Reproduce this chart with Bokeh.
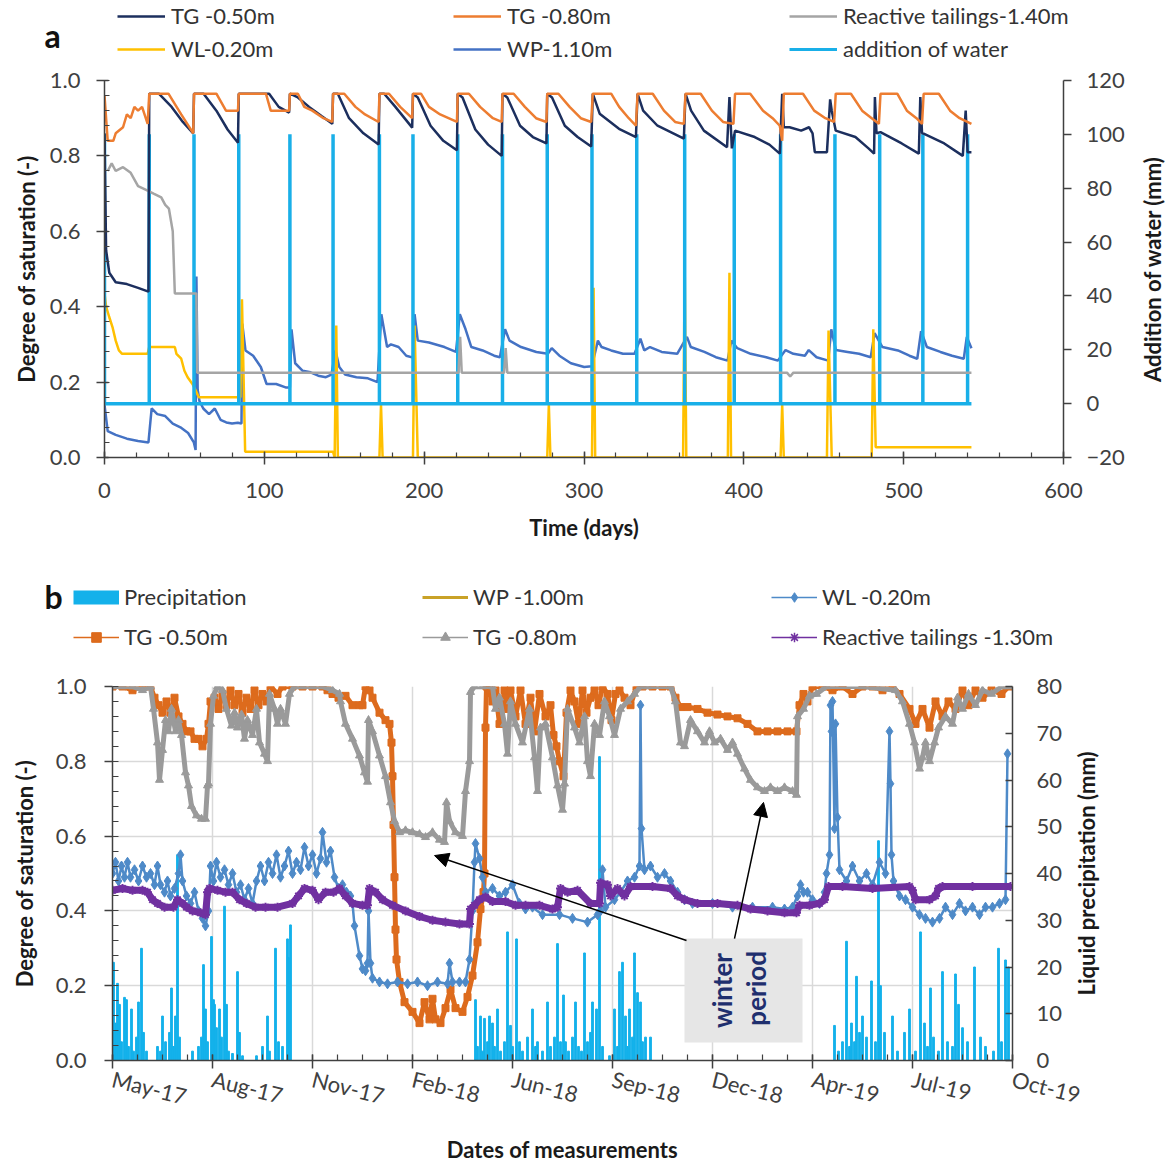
import math
from bokeh.plotting import figure
from bokeh.models import (Range1d, LinearAxis, SingleIntervalTicker, FixedTicker, Legend,
                          LegendItem, Label, Arrow, NormalHead, BoxAnnotation,
                          NumeralTickFormatter)
from bokeh.layouts import column
from bokeh.embed import file_html
from bokeh.resources import INLINE

FONT = "Lato"
AXC = "#404040"
W = 1165

# ======================= Panel a data (time in days) =======================
a_tg050_day = [0, 1, 3, 7, 14, 21, 27.5,
               28, 34, 42, 49, 55.5,
               56, 62, 70, 77, 83.5,
               84, 103, 109, 115.5,
               116, 121, 128, 136, 142.5,
               143, 146, 153, 162, 171.5,
               172, 175, 182, 192.5,
               193, 196, 204, 212, 220.5,
               221, 224, 232, 240, 248.5,
               249, 252, 260, 268, 276.5,
               277, 280, 288, 296, 304.5,
               305.5, 309.8, 321.9, 332.5,
               333.5, 337, 346, 362.5,
               363.5, 367, 375, 389.5, 391, 392.5,
               394.5, 406.8, 416, 422.5, 424, 425, 428.6, 435.9, 440.8, 443, 444.4, 452, 454, 455,
               457.5, 469.8, 478, 481.5, 482, 483,
               485.5, 498.8, 509.5, 510.4, 511.5,
               512.5, 525.4, 537, 538.8, 540, 542.4]
a_tg050_sat = [0.86, 0.55, 0.49, 0.465, 0.46, 0.45, 0.44,
               0.965, 0.965, 0.93, 0.89, 0.86,
               0.965, 0.965, 0.92, 0.87, 0.835,
               0.965, 0.965, 0.93, 0.915,
               0.965, 0.955, 0.93, 0.905, 0.885,
               0.965, 0.965, 0.90, 0.86, 0.83,
               0.965, 0.965, 0.93, 0.875,
               0.965, 0.955, 0.88, 0.84, 0.815,
               0.965, 0.955, 0.87, 0.83, 0.80,
               0.965, 0.955, 0.88, 0.85, 0.833,
               0.965, 0.955, 0.88, 0.85, 0.825,
               0.965, 0.912, 0.872, 0.85,
               0.965, 0.92, 0.88, 0.846,
               0.965, 0.92, 0.867, 0.823, 0.956, 0.82,
               0.867, 0.85, 0.83, 0.806, 0.965, 0.876, 0.876, 0.867, 0.876, 0.86, 0.81, 0.81, 0.95, 0.92,
               0.867, 0.85, 0.82, 0.806, 0.956, 0.86,
               0.863, 0.833, 0.806, 0.956, 0.86,
               0.859, 0.833, 0.80, 0.92, 0.81, 0.81]

a_tg080_day = [0, 2, 5.5, 7, 11.6, 14, 16.4, 18.7, 21, 23.5, 27,
               28, 40, 48, 55.5,
               56, 70, 76, 83.5,
               84, 101, 104, 115.5,
               116, 121, 125, 130, 137, 142.5,
               143, 150, 157, 163, 171.5,
               172, 178, 185, 192.5,
               193, 198, 203, 210, 220.5,
               221, 228, 235, 243, 248.5,
               249, 256, 263, 270, 276.5,
               277, 284, 291, 298, 304.5,
               305.5, 317, 322, 328, 332.5,
               333.5, 343, 350, 357, 362.5,
               363.5, 373, 380, 387, 393.5,
               394.5, 404, 412, 418, 422.5, 424,
               425, 437, 444, 451, 456.5,
               457.5, 467, 474, 480, 484.5,
               485.5, 496, 502, 508, 511.5,
               512.5, 522, 529, 535, 542.4]
a_tg080_sat = [0.96, 0.84, 0.84, 0.86, 0.876, 0.91, 0.90, 0.93, 0.92, 0.93, 0.885,
               0.965, 0.965, 0.91, 0.86,
               0.965, 0.965, 0.92, 0.92,
               0.965, 0.965, 0.92, 0.92,
               0.965, 0.965, 0.93, 0.92, 0.90, 0.89,
               0.965, 0.965, 0.93, 0.91, 0.89,
               0.965, 0.965, 0.93, 0.90,
               0.965, 0.965, 0.93, 0.91, 0.89,
               0.965, 0.965, 0.93, 0.90, 0.89,
               0.965, 0.965, 0.93, 0.90, 0.89,
               0.965, 0.965, 0.93, 0.90, 0.89,
               0.965, 0.965, 0.93, 0.90, 0.88,
               0.965, 0.965, 0.92, 0.89, 0.885,
               0.965, 0.965, 0.92, 0.89, 0.885,
               0.965, 0.965, 0.92, 0.90, 0.88, 0.84,
               0.965, 0.965, 0.92, 0.90, 0.89,
               0.965, 0.965, 0.92, 0.90, 0.885,
               0.965, 0.965, 0.92, 0.90, 0.885,
               0.965, 0.965, 0.92, 0.90, 0.885]

a_react_day = [2, 4.5, 7, 11.6, 16.4, 21, 26, 30.7, 35.5, 38, 40.3, 42.7, 44, 55, 57.5, 58,
               221.5, 222.5, 223.5, 250, 251, 252, 427, 429, 431, 542.4]
a_react_sat = [0.76, 0.78, 0.76, 0.77, 0.755, 0.72, 0.71, 0.70, 0.69, 0.67, 0.66, 0.60, 0.435, 0.435, 0.435, 0.225,
               0.225, 0.32, 0.225, 0.225, 0.29, 0.225, 0.225, 0.215, 0.225, 0.225]

a_wl_day = [0, 1, 3, 5, 7, 9, 11, 27, 28, 44, 45, 48, 50, 52, 55, 57, 59,
            85, 86, 88, 143, 144, 145, 146, 172, 173, 174, 193, 194, 196,
            277, 278, 279, 305, 306, 307, 362, 363, 364, 390, 391, 392,
            423, 424, 425, 452, 453, 455, 480, 481, 482.5, 542.4]
a_wl_sat = [0.435, 0.40, 0.372, 0.346, 0.31, 0.284, 0.275, 0.275, 0.293, 0.293, 0.275, 0.262, 0.23, 0.213, 0.195, 0.178, 0.16,
            0.16, 0.42, 0.015, 0.015, 0.0, 0.35, 0.0, 0.0, 0.14, 0.0, 0.0, 0.35, 0.0,
            0.0, 0.14, 0.0, 0.0, 0.45, 0.0, 0.0, 0.51, 0.0, 0.0, 0.49, 0.0,
            0.0, 0.14, 0.0, 0.0, 0.337, 0.0, 0.0, 0.34, 0.027, 0.027]

a_wp_day = [0, 2, 7, 14, 21, 27.5, 29.5, 33, 38, 42.7,
            47.5, 52.3, 55.9, 57, 57.5, 58.3, 59.4, 61.8, 65.4, 69,
            72.6, 76.2, 79.8, 83.4, 85.7, 86.2, 88.2, 93, 97.8, 101.4,
            107.4, 113.3, 116, 117, 119.3, 124, 128.9, 133.7, 138.5, 142,
            144.5, 146.9, 150.5, 157.6, 164.8, 170.8, 173.2, 176.8, 179.2, 184,
            188.8, 193, 194, 196, 203, 212.7, 219.9, 222.3, 225.9, 229.5,
            236.6, 243.8, 247.4, 250.6, 253.4, 260.6, 270.2, 277.4, 279.8, 284.6,
            291.8, 300.1, 304.9, 308.7, 311, 317, 324.4, 331.6, 335.3, 337.7,
            341.3, 348.6, 358.3, 364.4, 366.8, 375.3, 382.5, 389.8, 392.2, 395.9,
            404.3, 414, 421.3, 426.1, 431, 438.2, 440.6, 445.5, 452.8, 454.7,
            457.6, 464.9, 472.1, 479.4, 481.8, 486.7, 496.4, 503.6, 508.5, 510.9,
            514.5, 523, 530.3, 537.6, 539.5, 542.4]
a_wp_sat = [0.14, 0.07, 0.06, 0.05, 0.044, 0.04, 0.13, 0.115, 0.11, 0.09,
            0.08, 0.065, 0.04, 0.02, 0.48, 0.18, 0.15, 0.13, 0.115, 0.13,
            0.10, 0.093, 0.09, 0.092, 0.09, 0.355, 0.284, 0.27, 0.24, 0.195,
            0.195, 0.186, 0.186, 0.34, 0.25, 0.23, 0.226, 0.217, 0.213, 0.22,
            0.284, 0.24, 0.22, 0.213, 0.21, 0.20, 0.38, 0.293, 0.30, 0.293,
            0.27, 0.265, 0.38, 0.31, 0.305, 0.293, 0.28, 0.38, 0.34, 0.293,
            0.284, 0.27, 0.266, 0.34, 0.31, 0.293, 0.28, 0.275, 0.29, 0.27,
            0.25, 0.24, 0.242, 0.31, 0.293, 0.284, 0.275, 0.275, 0.315, 0.284,
            0.293, 0.28, 0.275, 0.32, 0.293, 0.28, 0.266, 0.257, 0.31, 0.29,
            0.275, 0.266, 0.257, 0.285, 0.275, 0.27, 0.285, 0.266, 0.257, 0.34,
            0.285, 0.28, 0.275, 0.266, 0.33, 0.293, 0.284, 0.27, 0.262, 0.335,
            0.293, 0.28, 0.27, 0.262, 0.32, 0.29]

# addition of water events (day, mm); zero between events until the end of the test
a_water_day = [0, 28, 56, 84, 116, 143, 172, 193, 221, 249, 277, 305, 333, 363, 394, 423, 457, 485, 512, 540]
a_water_mm = [100] * 20
a_water_end_day = 542.4

# ======================= Panel b data (days since 1 May 2017) =======================
b_tick_days = [0, 100, 200, 300, 400, 500, 600, 700, 800, 900]
b_tick_labels = ["May-17", "Aug-17", "Nov-17", "Feb-18", "Jun-18", "Sep-18", "Dec-18", "Apr-19", "Jul-19", "Oct-19"]

b_tg050_day = [0, 10, 20, 30, 38, 42, 46, 50, 54, 58,
               62, 66, 70, 74, 78, 82, 86, 90, 94, 96,
               98, 102, 106, 110, 114, 118, 122, 126, 130, 134,
               138, 142, 146, 150, 154, 158, 165, 170, 180, 190,
               200, 210, 215, 220, 226, 233, 240, 247, 250, 253,
               257, 260, 267, 273, 277, 279, 280, 281, 282, 283,
               284, 287, 292, 300, 307, 312, 317, 320, 323, 328,
               333, 338, 343, 350, 355, 360, 365, 368, 371, 372,
               373, 374, 377, 380, 383, 387, 392, 395, 398, 403,
               408, 413, 418, 422, 427, 433, 438, 441, 444, 447,
               451, 454, 458, 462, 466, 470, 474, 478, 482, 486,
               490, 495, 499, 503, 507, 512, 518, 524, 530, 540,
               550, 558, 563, 568, 575, 585, 595, 605, 615, 625,
               635, 645, 655, 665, 675, 684, 687, 691, 695, 700,
               710, 720, 730, 740, 750, 760, 770, 780, 787, 797,
               803, 810, 817, 823, 830, 836, 843, 850, 856, 863,
               870, 879, 889, 896]
b_tg050_sat = [1.0, 1.0, 0.99, 1.0, 1.0, 0.97, 0.95, 0.93, 0.96, 0.93,
               0.97, 0.92, 0.90, 0.88, 0.88, 0.86, 0.86, 0.84, 0.86, 0.90,
               0.96, 0.97, 0.94, 0.98, 0.95, 0.99, 0.95, 0.98, 0.93, 0.97,
               0.94, 0.99, 0.95, 0.98, 0.96, 1.0, 0.98, 1.0, 1.0, 1.0,
               1.0, 1.0, 0.99, 0.98, 0.97, 0.975, 0.95, 0.95, 0.95, 1.0,
               0.99, 0.97, 0.93, 0.91, 0.90, 0.85, 0.76, 0.63, 0.49, 0.35,
               0.27, 0.21, 0.156, 0.13, 0.10, 0.156, 0.11, 0.165, 0.11, 0.10,
               0.14, 0.19, 0.14, 0.13, 0.17, 0.227, 0.316, 0.405, 0.45, 0.50,
               0.89, 1.0, 0.99, 0.96, 0.99, 0.90, 0.99, 0.94, 0.99, 0.92,
               0.99, 0.90, 0.97, 0.88, 0.98, 0.92, 0.95, 0.87, 0.84, 0.80,
               0.76, 0.93, 0.99, 0.96, 0.90, 0.99, 0.93, 0.97, 0.99, 0.95,
               1.0, 0.98, 0.91, 0.98, 0.99, 0.97, 0.95, 1.0, 1.0, 1.0,
               1.0, 1.0, 0.97, 0.945, 0.945, 0.94, 0.93, 0.925, 0.92, 0.915,
               0.90, 0.88, 0.88, 0.88, 0.88, 0.88, 0.95, 0.98, 0.96, 1.0,
               1.0, 0.99, 1.0, 0.98, 1.0, 1.0, 0.99, 1.0, 0.98, 0.94,
               0.90, 0.94, 0.89, 0.96, 0.92, 0.96, 0.94, 0.99, 0.95, 0.99,
               0.97, 0.99, 0.98, 1.0]

b_tg080_day = [0, 10, 20, 30, 38, 41, 45, 47, 50, 53,
               56, 59, 63, 66, 69, 73, 76, 79, 84, 89,
               93, 95, 96, 98, 101, 105, 110, 114, 119, 122,
               125, 129, 132, 135, 140, 144, 147, 152, 155, 157,
               162, 165, 168, 173, 177, 182, 190, 200, 210, 220,
               227, 228, 233, 240, 247, 252, 255, 256, 260, 267,
               273, 278, 282, 287, 293, 300, 307, 313, 320, 327,
               332, 334, 337, 343, 350, 353, 357, 358, 362, 370,
               380, 383, 387, 392, 395, 398, 403, 410, 417, 422,
               425, 428, 433, 440, 445, 450, 452, 455, 462, 467,
               472, 475, 478, 482, 487, 492, 497, 502, 508, 515,
               522, 528, 535, 558, 563, 568, 572, 578, 585, 592,
               597, 602, 608, 615, 620, 625, 632, 638, 645, 652,
               658, 665, 672, 680, 684, 685, 691, 697, 704, 714,
               750, 783, 790, 797, 802, 807, 810, 813, 817, 822,
               826, 833, 840, 845, 850, 856, 863, 870, 879, 889,
               896]
b_tg080_sat = [1.0, 1.0, 1.0, 0.99, 1.0, 0.94, 0.85, 0.75, 0.83, 0.91,
               0.88, 0.94, 0.88, 0.91, 0.87, 0.77, 0.735, 0.68, 0.655, 0.646,
               0.646, 0.735, 0.74, 0.90, 0.975, 1.0, 0.99, 0.94, 0.895, 0.93,
               0.89, 0.925, 0.86, 0.91, 0.87, 0.94, 0.85, 0.82, 0.80, 0.98,
               0.94, 0.90, 0.94, 0.90, 0.98, 1.0, 1.0, 1.0, 1.0, 0.99,
               0.98, 0.96, 0.90, 0.86, 0.815, 0.77, 0.745, 0.91, 0.88, 0.815,
               0.76, 0.69, 0.64, 0.61, 0.615, 0.61, 0.605, 0.597, 0.61, 0.59,
               0.584, 0.69, 0.64, 0.61, 0.60, 0.72, 0.80, 0.985, 1.0, 1.0,
               1.0, 0.94, 0.97, 0.90, 0.82, 0.96, 0.90, 0.85, 0.94, 0.81,
               0.72, 0.89, 0.90, 0.81, 0.735, 0.67, 0.74, 0.94, 0.89, 0.85,
               0.92, 0.80, 0.76, 0.90, 0.87, 0.96, 0.92, 0.87, 0.94, 0.96,
               0.98, 1.0, 1.0, 1.0, 0.96, 0.85, 0.84, 0.91, 0.88, 0.85,
               0.88, 0.85, 0.86, 0.83, 0.85, 0.82, 0.78, 0.75, 0.73, 0.72,
               0.73, 0.72, 0.73, 0.72, 0.71, 0.92, 0.94, 0.975, 0.98, 1.0,
               1.0, 0.99, 0.96, 0.90, 0.85, 0.78, 0.81, 0.85, 0.80, 0.85,
               0.89, 0.92, 0.90, 0.97, 0.94, 0.98, 0.95, 0.99, 0.98, 1.0,
               1.0]

b_wl_day = [0, 3, 6, 9, 12, 15, 18, 22, 26, 30,
            34, 38, 42, 45, 48, 52, 55, 58, 62, 66,
            68, 70, 74, 78, 82, 86, 90, 93, 96, 98,
            101, 104, 108, 112, 116, 120, 124, 128, 132, 136,
            140, 144, 148, 152, 156, 160, 164, 168, 172, 176,
            180, 184, 188, 192, 196, 200, 204, 208, 210, 214,
            218, 222, 226, 230, 234, 238, 240, 242, 247, 250,
            253, 255, 256, 258, 260, 267, 275, 285, 295, 305,
            315, 325, 335, 337, 340, 347, 353, 357, 360, 362,
            363, 367, 370, 373, 380, 387, 393, 400, 407, 413,
            420, 430, 447, 460, 475, 485, 488, 490, 493, 502,
            508, 515, 522, 527, 528, 529, 532, 538, 545, 552,
            558, 565, 572, 580, 600, 620, 640, 660, 672, 680,
            685, 688, 691, 695, 700, 707, 712, 714, 717, 718,
            719, 720, 722, 723, 725, 727, 734, 740, 747, 754,
            760, 767, 773, 777, 778, 779, 781, 787, 793, 800,
            807, 813, 820, 827, 833, 840, 847, 853, 860, 867,
            873, 880, 887, 893, 895]
b_wl_sat = [0.50, 0.53, 0.48, 0.52, 0.49, 0.53, 0.49, 0.51, 0.48, 0.52,
            0.49, 0.50, 0.47, 0.52, 0.47, 0.45, 0.48, 0.44, 0.46, 0.50,
            0.55, 0.48, 0.44, 0.42, 0.45, 0.40, 0.38, 0.36, 0.40, 0.52,
            0.48, 0.53, 0.49, 0.51, 0.47, 0.50, 0.45, 0.47, 0.43, 0.46,
            0.42, 0.48, 0.52, 0.48, 0.53, 0.50, 0.55, 0.49, 0.52, 0.56,
            0.50, 0.53, 0.51, 0.57, 0.52, 0.55, 0.50, 0.54, 0.61, 0.53,
            0.56, 0.49, 0.46, 0.47, 0.45, 0.44, 0.42, 0.36, 0.28, 0.245,
            0.24, 0.26, 0.40, 0.26, 0.22, 0.21, 0.205, 0.21, 0.205, 0.21,
            0.20, 0.21, 0.205, 0.26, 0.21, 0.21, 0.21, 0.27, 0.40, 0.53,
            0.58, 0.54, 0.49, 0.45, 0.46, 0.44, 0.45, 0.47, 0.42, 0.405,
            0.41, 0.39, 0.39, 0.38, 0.37, 0.39, 0.40, 0.51, 0.41, 0.43,
            0.45, 0.48, 0.49, 0.52, 0.95, 0.62, 0.51, 0.52, 0.49, 0.50,
            0.48, 0.45, 0.43, 0.42, 0.42, 0.41, 0.41, 0.41, 0.405, 0.41,
            0.44, 0.47, 0.45, 0.45, 0.43, 0.42, 0.45, 0.50, 0.55, 0.95,
            0.88, 0.96, 0.62, 0.90, 0.65, 0.51, 0.48, 0.52, 0.48, 0.50,
            0.47, 0.53, 0.50, 0.88, 0.74, 0.55, 0.48, 0.44, 0.43, 0.41,
            0.39, 0.38, 0.37, 0.38, 0.41, 0.39, 0.42, 0.40, 0.41, 0.39,
            0.41, 0.41, 0.42, 0.43, 0.82]

b_react_day = [0, 10, 20, 30, 35, 40, 45, 52, 61, 65,
               70, 74, 80, 88, 93, 95, 97, 105, 113, 120,
               127, 134, 143, 153, 165, 180, 186, 192, 200, 206,
               213, 221, 227, 233, 240, 250, 255, 257, 263, 270,
               280, 293, 307, 320, 333, 347, 357, 358, 362, 367,
               373, 380, 393, 403, 413, 427, 440, 445, 448, 455,
               465, 478, 487, 488, 495, 498, 505, 512, 518, 540,
               558, 565, 572, 585, 605, 625, 638, 655, 672, 684,
               687, 697, 707, 712, 716, 730, 760, 797, 800, 803,
               817, 823, 826, 830, 860, 898]
b_react_sat = [0.455, 0.46, 0.455, 0.455, 0.45, 0.43, 0.42, 0.41, 0.41, 0.43,
               0.42, 0.41, 0.40, 0.395, 0.39, 0.45, 0.46, 0.455, 0.45, 0.45,
               0.43, 0.42, 0.41, 0.41, 0.41, 0.42, 0.44, 0.46, 0.455, 0.43,
               0.45, 0.45, 0.46, 0.44, 0.42, 0.415, 0.415, 0.46, 0.45, 0.43,
               0.415, 0.40, 0.385, 0.375, 0.37, 0.365, 0.365, 0.405, 0.415, 0.43,
               0.437, 0.425, 0.425, 0.415, 0.415, 0.415, 0.405, 0.41, 0.46, 0.45,
               0.455, 0.42, 0.42, 0.475, 0.47, 0.44, 0.46, 0.44, 0.465, 0.465,
               0.46, 0.44, 0.43, 0.42, 0.42, 0.415, 0.405, 0.40, 0.395, 0.395,
               0.415, 0.415, 0.42, 0.43, 0.465, 0.465, 0.46, 0.465, 0.455, 0.43,
               0.43, 0.44, 0.46, 0.465, 0.465, 0.465]

b_rain_day = [1, 3, 5, 7, 9, 12, 14, 16, 19, 21,
              24, 26, 29, 31, 34, 45, 48, 50, 53, 57,
              59, 61, 63, 65, 67, 80, 86, 89, 91, 93,
              95, 99, 101, 102, 104, 107, 109, 112, 114, 116,
              120, 125, 127, 130, 144, 150, 155, 157, 163, 166,
              170, 175, 176, 178, 363, 365, 368, 370, 372, 375,
              377, 380, 382, 385, 388, 392, 395, 398, 400, 404,
              407, 410, 415, 420, 423, 425, 430, 435, 438, 442,
              445, 448, 451, 453, 456, 460, 463, 466, 469, 472,
              475, 478, 480, 484, 487, 490, 497, 502, 505, 507,
              510, 513, 515, 517, 520, 522, 525, 528, 530, 533,
              538, 722, 726, 730, 734, 737, 739, 742, 744, 747,
              750, 754, 759, 763, 766, 768, 772, 780, 785, 792,
              797, 803, 808, 812, 815, 818, 821, 826, 830, 835,
              840, 843, 846, 850, 855, 862, 868, 873, 881, 886,
              889, 893, 896]
b_rain_mm = [21, 8, 16.5, 12, 4, 13.5, 13, 3, 11, 2,
             5, 12.5, 24, 6, 2, 3, 2, 9.5, 4, 6,
             15.5, 3, 9.5, 44, 5, 2, 3, 5, 20.5, 11,
             4, 26.5, 13, 12, 7, 11, 5, 33, 12, 2,
             1.5, 19, 6, 1, 1, 3, 9.5, 2, 24, 4,
             3, 26, 22, 29, 13, 3, 9.5, 2, 9, 4,
             9.5, 8, 3, 11, 2, 4, 27.5, 7.5, 3, 26,
             4, 2, 5, 11, 3, 4, 2, 12.5, 3, 5,
             25, 4, 14, 4, 2, 5, 12.5, 3, 2, 23,
             4, 6, 12.5, 11, 65, 3, 1, 11, 3, 19,
             21, 9.5, 3, 11, 5, 23, 14.5, 12.5, 4, 5,
             5, 7.5, 2, 4, 25.5, 3, 8, 4, 18, 6,
             9.5, 5, 17, 4, 47, 16, 6, 9.5, 2, 6,
             11, 2, 27.5, 8, 3, 15.5, 5, 2, 19, 4,
             3, 18.5, 12, 7, 4, 20, 5, 3, 2, 24,
             4, 21.5, 20]

# ======================= colours =======================
A_NAVY, A_ORANGE, A_GREY, A_GOLD, A_BLUE, A_CYAN = "#1c2f5e", "#ed7d31", "#a5a5a5", "#ffc000", "#4472c4", "#19afe8"
B_ORANGE, B_GREY, B_WL, B_PURPLE, B_RAIN, B_WP = "#dd6b1d", "#9a9a9a", "#4e8ac8", "#7030a0", "#14b1ea", "#c9a227"

# legend keys are drawn from one off-screen proxy point per series
OFF = [-1000.0]


def style_axis(ax, tin, tout, min_in, min_out, standoff, label, lstandoff):
    ax.axis_line_color = AXC
    ax.axis_line_width = 1.5
    ax.major_tick_line_color = AXC
    ax.major_tick_line_width = 1.5
    ax.minor_tick_line_color = AXC
    ax.minor_tick_line_width = 1.2
    ax.major_tick_in = tin
    ax.major_tick_out = tout
    ax.minor_tick_in = min_in
    ax.minor_tick_out = min_out
    ax.major_label_text_font = FONT
    ax.major_label_text_font_size = "22px"
    ax.major_label_text_color = "#404040"
    ax.major_label_standoff = standoff
    ax.axis_label = label
    ax.axis_label_text_font = FONT
    ax.axis_label_text_font_size = "22px"
    ax.axis_label_text_font_style = "bold"
    ax.axis_label_text_color = "#1a1a1a"
    ax.axis_label_standoff = lstandoff


def side_title(text, x, y):
    return Label(x=x, y=y, text=text, angle=math.pi / 2, text_font=FONT, text_font_size="22px",
                 text_font_style="bold", text_color="#1a1a1a", text_align="center",
                 text_baseline="middle")


def style_legend(lg, glyph_w, standoff, spacing, label_w):
    lg.orientation = "horizontal"
    lg.ncols = 3
    lg.glyph_width = glyph_w
    lg.glyph_height = 24
    lg.label_height = 24
    lg.label_standoff = standoff
    lg.spacing = spacing
    lg.label_width = label_w
    lg.padding = 0
    lg.margin = 0
    lg.border_line_alpha = 0
    lg.background_fill_alpha = 0
    lg.label_text_font = FONT
    lg.label_text_font_size = "22px"
    lg.label_text_color = "#333333"
    lg.label_text_baseline = "middle"


def header(height):
    h = figure(width=W, height=height, x_range=Range1d(0, W), y_range=Range1d(0, height),
               x_axis_type=None, y_axis_type=None, output_backend="svg", toolbar_location=None,
               min_border=0, min_border_left=0, min_border_right=0, min_border_top=0, min_border_bottom=0)
    h.outline_line_color = None
    h.title.visible = False
    h.frame_align = False
    return h


# ======================= Panel a header (legend + "a") =======================
HA = 64
ha = header(HA)
pa_leg = [
    ("TG -0.50m", A_NAVY, 2.5),
    ("TG -0.80m", A_ORANGE, 2.5),
    ("Reactive tailings-1.40m", A_GREY, 2.5),
    ("WL-0.20m", A_GOLD, 2.5),
    ("WP-1.10m", A_BLUE, 2.5),
    ("addition of water", A_CYAN, 3),
]
leg_a = Legend(items=[LegendItem(label=k, renderers=[ha.line(OFF, OFF, color=c, line_width=lw)])
                      for k, c, lw in pa_leg], location=(117, 2))
style_legend(leg_a, 48, 6, 6, 276)
ha.add_layout(leg_a, "center")
ha.add_layout(Label(x=52, y=HA - 35, text="a", text_font=FONT, text_font_size="32px",
                    text_font_style="bold", text_align="center", text_baseline="middle",
                    text_color="#111111"))

# ======================= Panel a =======================
pa = figure(width=W, height=550 - HA, x_range=Range1d(0, 600), y_range=Range1d(0, 1),
            output_backend="svg", toolbar_location=None,
            min_border_left=104, min_border_right=W - 1063, min_border_top=80 - HA, min_border_bottom=93)
pa.frame_align = False
pa.outline_line_color = None
pa.xgrid.visible = False
pa.ygrid.visible = False
pa.extra_y_ranges = {"water": Range1d(-20, 120)}

pa.xaxis.ticker = SingleIntervalTicker(interval=100, num_minor_ticks=5)
pa.yaxis.ticker = SingleIntervalTicker(interval=0.2, num_minor_ticks=5)
pa.yaxis.formatter = NumeralTickFormatter(format="0.0")
style_axis(pa.xaxis[0], 6, 7, 5, 0, 18, "Time (days)", 13)
style_axis(pa.yaxis[0], 4, 8, 5, 0, 16, "Degree of saturation (-)", 7)
ra = LinearAxis(y_range_name="water", ticker=SingleIntervalTicker(interval=20))
style_axis(ra, 0, 8, 0, 0, 15, None, 0)
pa.add_layout(ra, "right")
pa.add_layout(side_title("Addition of water (mm)", 655.5, 0.5), "right")

pa.line(a_wp_day, a_wp_sat, color=A_BLUE, line_width=2.5)
pa.line(a_wl_day, a_wl_sat, color=A_GOLD, line_width=2.5)
wx, wy = [], []
for d, mm in zip(a_water_day, a_water_mm):
    wx += [d, d, d]
    wy += [0, mm, 0]
wx.append(a_water_end_day)
wy.append(0)
pa.line(wx, wy, color=A_CYAN, line_width=3.5, y_range_name="water")
pa.line(a_react_day, a_react_sat, color=A_GREY, line_width=2.5)
pa.line(a_tg050_day, a_tg050_sat, color=A_NAVY, line_width=2.5)
pa.line(a_tg080_day, a_tg080_sat, color=A_ORANGE, line_width=2.5)

# ======================= Panel b header (legend + "b") =======================
HB = 118
hb = header(HB)
lp = [
    ("Precipitation", [hb.line(OFF, OFF, color=B_RAIN, line_width=14, line_cap="butt")]),
    ("WP -1.00m", [hb.line(OFF, OFF, color=B_WP, line_width=3)]),
    ("WL -0.20m", [hb.line(OFF, OFF, color=B_WL, line_width=1.5),
                   hb.scatter(OFF, OFF, marker="diamond", size=8, color=B_WL)]),
    ("TG -0.50m", [hb.line(OFF, OFF, color=B_ORANGE, line_width=1.5),
                   hb.scatter(OFF, OFF, marker="square", size=6, color=B_ORANGE)]),
    ("TG -0.80m", [hb.line(OFF, OFF, color=B_GREY, line_width=1.5),
                   hb.scatter(OFF, OFF, marker="triangle", size=6, color=B_GREY)]),
    ("Reactive tailings -1.30m", [hb.line(OFF, OFF, color=B_PURPLE, line_width=1.5),
                                  hb.scatter(OFF, OFF, marker="asterisk", size=8, color=B_PURPLE,
                                             line_width=1.5)]),
]
leg_b = Legend(items=[LegendItem(label=k, renderers=v) for k, v in lp], location=(73, 18))
style_legend(leg_b, 46, 5, 13, 285)
hb.add_layout(leg_b, "center")
hb.add_layout(Label(x=53, y=HB - 46, text="b", text_font=FONT, text_font_size="32px",
                    text_font_style="bold", text_align="center", text_baseline="middle",
                    text_color="#111111"))

# ======================= Panel b =======================
PB_TOP = 550 + HB
pb = figure(width=W, height=1165 - PB_TOP, x_range=Range1d(0, 900), y_range=Range1d(0, 1),
            output_backend="svg", toolbar_location=None,
            min_border_left=112, min_border_right=W - 1012, min_border_top=686 - PB_TOP,
            min_border_bottom=105)
pb.frame_align = False
pb.outline_line_color = None
pb.extra_y_ranges = {"rain": Range1d(0, 80)}
pb.xaxis.ticker = FixedTicker(ticks=b_tick_days, minor_ticks=list(range(0, 901, 25)))
pb.xaxis.major_label_overrides = {d: lab for d, lab in zip(b_tick_days, b_tick_labels)}
pb.xaxis.major_label_orientation = -0.24
pb.yaxis.ticker = SingleIntervalTicker(interval=0.2, num_minor_ticks=5)
pb.yaxis.formatter = NumeralTickFormatter(format="0.0")
style_axis(pb.xaxis[0], 6, 8, 6, 0, 10, "Dates of measurements", 10)
style_axis(pb.yaxis[0], 0, 8, 6, 0, 18, "Degree of saturation (-)", 15)
rb = LinearAxis(y_range_name="rain", ticker=SingleIntervalTicker(interval=10))
style_axis(rb, 7, 0, 0, 0, 24, None, 0)
pb.add_layout(rb, "right")
pb.add_layout(side_title("Liquid precipitation (mm)", 974, 0.5), "right")
pb.xgrid.grid_line_color = "#d9d9d9"
pb.ygrid.grid_line_color = "#d9d9d9"
pb.xgrid.grid_line_width = 1.5
pb.ygrid.grid_line_width = 1.5

pb.vbar(x=b_rain_day, top=b_rain_mm, bottom=0, width=1.8, color=B_RAIN, y_range_name="rain")
pb.line(b_tg050_day, b_tg050_sat, color=B_ORANGE, line_width=5)
pb.scatter(b_tg050_day, b_tg050_sat, marker="square", size=7, color=B_ORANGE)
pb.line(b_tg080_day, b_tg080_sat, color=B_GREY, line_width=5)
pb.scatter(b_tg080_day, b_tg080_sat, marker="triangle", size=8, color=B_GREY)
pb.line(b_wl_day, b_wl_sat, color=B_WL, line_width=2.5)
pb.scatter(b_wl_day, b_wl_sat, marker="diamond", size=10, color=B_WL)
pb.line(b_react_day, b_react_sat, color=B_PURPLE, line_width=7)
pb.scatter(b_react_day, b_react_sat, marker="asterisk", size=9, color=B_PURPLE, line_width=2)

pb.add_layout(BoxAnnotation(left=572, right=690, bottom=0.048, top=0.326,
                            fill_color="#e6e6e6", fill_alpha=1.0, line_color=None))
pb.add_layout(Arrow(end=NormalHead(size=14, fill_color="black", line_color="black"),
                    x_start=574, y_start=0.321, x_end=322, y_end=0.548,
                    line_color="black", line_width=1.5))
pb.add_layout(Arrow(end=NormalHead(size=14, fill_color="black", line_color="black"),
                    x_start=622, y_start=0.326, x_end=651, y_end=0.69,
                    line_color="black", line_width=1.5))
for tx, ty, tt in [(609, 0.187, "winter"), (643, 0.193, "period")]:
    pb.add_layout(Label(x=tx, y=ty, text=tt, angle=math.pi / 2, text_font=FONT,
                        text_font_size="26px", text_font_style="bold", text_color="#1f2f6e",
                        text_align="center", text_baseline="middle"))

layout = column(ha, pa, hb, pb)
open("out.html", "w").write(file_html(layout, INLINE))
